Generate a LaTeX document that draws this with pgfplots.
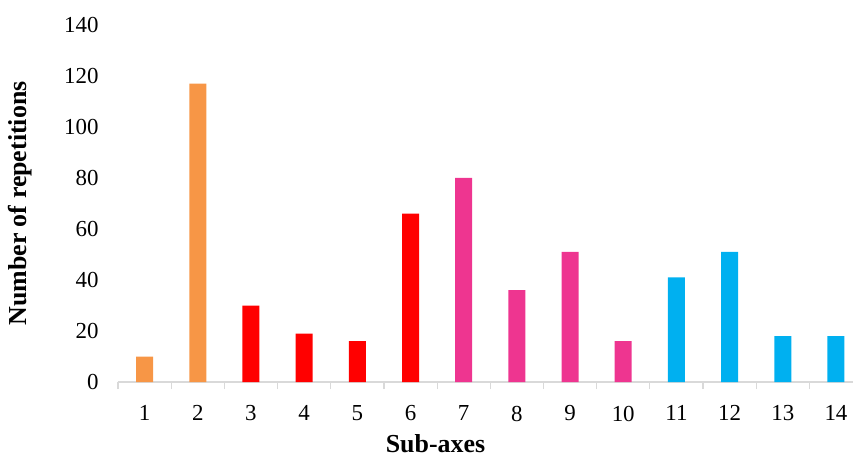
\documentclass[border=0pt]{standalone}
\usepackage{pgfplots}
\pgfplotsset{compat=1.18}
\usepackage{fontspec}
\setmainfont{Liberation Serif}
\definecolor{corange}{HTML}{F79646}
\definecolor{cred}{HTML}{FF0000}
\definecolor{cpink}{HTML}{EE3590}
\definecolor{cblue}{HTML}{00B0F0}
\definecolor{caxis}{HTML}{D9D9D9}
\begin{document}
\begin{tikzpicture}
\begin{axis}[
  scale only axis,
  width=735bp, height=357bp,
  xmin=0.5, xmax=14.32,
  ymin=0, ymax=140,
  ytick={0,20,...,140},
  xtick={1,...,14},
  minor xtick={0.5,1.5,...,13.5},
  axis x line*=bottom,
  axis y line*=left,
  y axis line style={draw=none},
  x axis line style={draw=caxis, line width=1.2bp, -},
  major x tick style={draw=none},
  minor x tick style={draw=caxis, line width=1.2bp},
  minor tick length=7bp,
  xtick align=outside,
  ytick style={draw=none},
  /pgf/number format/assume math mode=true,
  tick label style={font=\fontsize{23}{27}\selectfont, text=black},
  x tick label style={yshift=-16bp},
  y tick label style={xshift=-16bp},
  xlabel={\textbf{Sub-axes}},
  ylabel={\textbf{Number of repetitions}},
  label style={font=\fontsize{26}{30}\selectfont},
  xlabel style={yshift=-9bp, xshift=-50bp, inner sep=1bp},
  ylabel style={yshift=25bp},
  ybar, bar width=17bp, bar shift=0pt,
  clip=false,
]
\addplot[draw=none, fill=corange] coordinates {(1,10) (2,117)};
\addplot[draw=none, fill=cred] coordinates {(3,30) (4,19) (5,16) (6,66)};
\addplot[draw=none, fill=cpink] coordinates {(7,80) (8,36) (9,51) (10,16)};
\addplot[draw=none, fill=cblue] coordinates {(11,41) (12,51) (13,18) (14,18)};
\end{axis}
\pgfresetboundingbox
\path ([xshift=-118bp,yshift=25bp]current axis.north west) rectangle ([yshift=-75bp]current axis.south east);
\end{tikzpicture}
\end{document}
